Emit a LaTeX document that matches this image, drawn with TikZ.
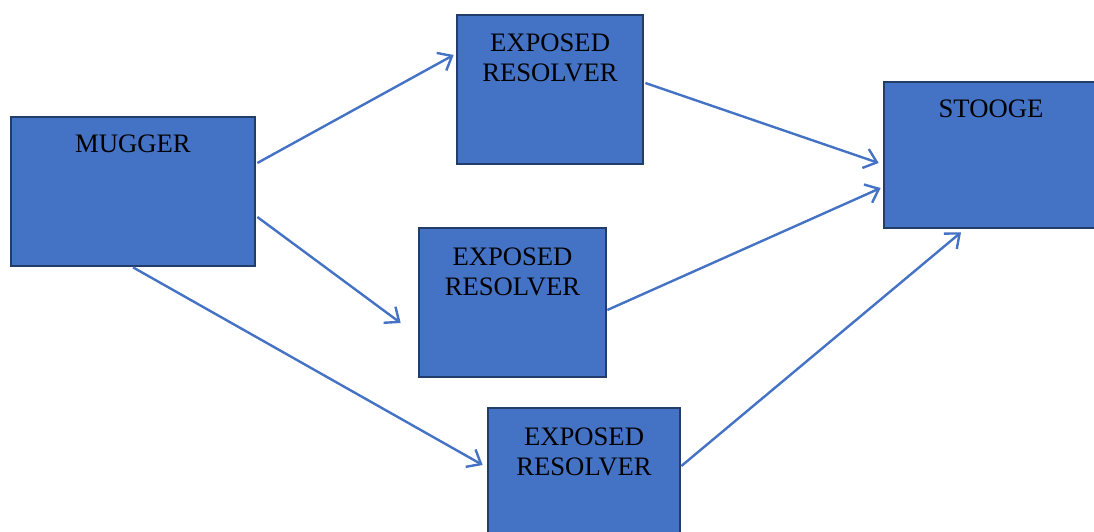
\documentclass[tikz,border=0pt]{standalone}
\usepackage{fontspec}
\setmainfont{Liberation Serif}
\usepackage{tikz}
\usetikzlibrary{arrows.meta, positioning, calc}
\definecolor{boxblue}{HTML}{4472C4}
\definecolor{boxedge}{HTML}{233D6B}

\begin{document}
\begin{tikzpicture}[
    x=0.75pt, y=-0.75pt,
    card/.style={draw=boxedge, fill=boxblue, line width=2pt, inner sep=0pt,
                 minimum height=111.75pt},
    caption/.style={font=\fontsize{20}{22.5}\selectfont, align=center,
                    inner sep=0pt, anchor=north, text=black},
    link/.style={draw=boxblue, line width=1.8pt,
                 -{Straight Barb[length=9pt, width=15pt]}},
]
    \useasboundingbox (0,0) rectangle (1094,531);
    \clip (0,0) rectangle (1094,531);

    % Boxes
    \node[card, minimum width=183pt] (mugger) at (133,191.5) {};
    \node[card, minimum width=139.5pt] (res1) at (550,89.5) {};
    \node[card, minimum width=140.25pt] (res2) at (512.5,302.5) {};
    \node[card, minimum width=144pt] (res3) at (584,482.5) {};
    \node[card, minimum width=160.5pt, minimum height=109.5pt] (stooge) at (991,155) {};

    % Texts
    \node[caption, below=14.5pt of mugger.north] (muggertxt) {MUGGER};
    \node[caption, below=15pt of res1.north] (res1txt) {EXPOSED\\RESOLVER};
    \node[caption, below=15.5pt of res2.north] (res2txt) {EXPOSED\\RESOLVER};
    \node[caption, below=16pt of res3.north] (res3txt) {EXPOSED\\RESOLVER};
    \node[caption, below=14.5pt of stooge.north] (stoogetxt) {STOOGE};

    % Arrows
    \draw[link] ($(mugger.east)+(1,-28.5)$) -- ($(res1.west)+(-2,-34.5)$);
    \draw[link] ($(mugger.east)+(1,25.5)$) -- ($(res2.west)+(-17,20.5)$);
    \draw[link] (mugger.south) -- ($(res3.west)+(-4,-17.5)$);
    \draw[link] ($(res1.east)+(1,-6.5)$) -- ($(stooge.west)+(-4,8)$);
    \draw[link] ($(res2.east)+(0,7.5)$) -- ($(stooge.west)+(-2,33)$);
    \draw[link] ($(res3.east)+(0,-16.5)$) -- ($(stooge.south)+(-30,3)$);
\end{tikzpicture}
\end{document}
